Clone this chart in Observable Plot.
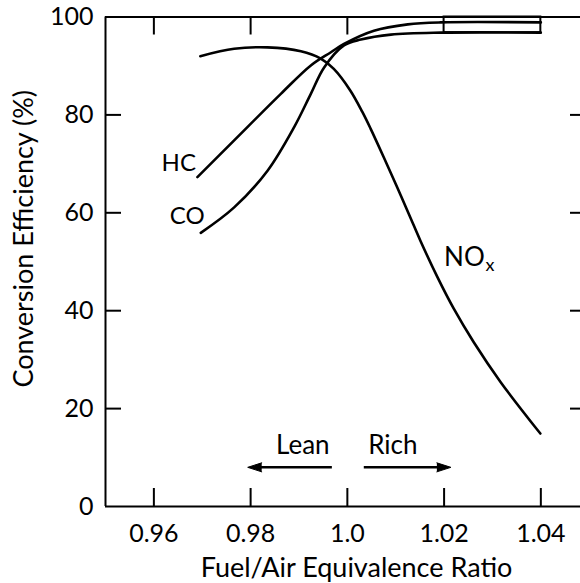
<!DOCTYPE html>
<html>
<head>
<meta charset="utf-8">
<script src="https://cdn.jsdelivr.net/npm/d3@7"></script>
<script src="https://cdn.jsdelivr.net/npm/@observablehq/plot@0.6"></script>
<style>
  body { margin: 0; background: #fff; }
  #chart svg { display: block; }
</style>
</head>
<body>
<div id="chart"></div>
<script>
// Three-way catalyst conversion efficiency vs. fuel/air equivalence ratio
const xDomain = [0.95, 1.0482];
const yDomain = [0, 100];
const xTicks = [0.96, 0.98, 1.0, 1.02, 1.04];
const xTickLabels = ["0.96", "0.98", "1.0", "1.02", "1.04"];
const yTicks = [0, 20, 40, 60, 80, 100];

// HC conversion efficiency (%)
const hcX = [0.9690, 0.9766, 0.98625, 0.99245, 0.9966, 0.9993, 1.0055, 1.0125, 1.0193, 1.0400];
const hcY = [67.3, 74.8, 84.3, 90.1, 92.8, 94.5, 97.2, 98.5, 98.9, 98.9];

// CO conversion efficiency (%)
const coX = [0.9697, 0.9766, 0.9835, 0.9890, 0.99245, 0.9952, 0.9993, 1.0028, 1.0090, 1.0193, 1.0400];
const coY = [55.9, 61.1, 68.6, 77.5, 84.3, 89.7, 94.2, 95.4, 96.4, 96.8, 96.8];

// NOx conversion efficiency (%)
const noxX = [0.9696, 0.9766, 0.9835, 0.9904, 0.9945, 0.9972, 1.0006, 1.0031, 1.0048, 1.0075,
              1.0103, 1.0130, 1.0151, 1.0186, 1.0220, 1.0261, 1.0317, 1.0399];
const noxY = [92.0, 93.5, 93.8, 93.0, 91.5, 89.4, 85.0, 80.6, 77.2, 71.4,
              65.2, 59.1, 54.3, 46.9, 40.4, 33.6, 25.4, 14.9];

// operating window box (x range, lower bound = CO plateau)
const windowX = [1.02, 1.04];
const windowY = [96.8, 100];

// curve labels
const curveLabels = [
  {text: "HC", x: 0.9687, y: 70.2},
  {text: "CO", x: 0.9705, y: 59.2}
];
const noxLabel = {x: 1.0200, y: 50.8};

// lean / rich arrows
const arrowY = 8.0;
const leanArrow = {tail: 0.9969, head: 0.9794};
const richArrow = {tail: 1.0035, head: 1.0214};
const arrowLabels = [
  {text: "Lean", x: 0.9908, y: 12.4},
  {text: "Rich", x: 1.0094, y: 12.4}
];

const xTitle = "Fuel/Air Equivalence Ratio";
const yTitle = "Conversion Efficiency (%)";

const toRows = (xs, ys) => xs.map((x, i) => ({x, y: ys[i]}));
const hc = toRows(hcX, hcY);
const co = toRows(coX, coY);
const nox = toRows(noxX, noxY);

const W = 580, H = 583;
const mT = 16.5, mB = 77, mL = 105, mR = 0;
const plotH = H - mT - mB;
const plotW = W - mL - mR;
const ink = "#000";
const font = "Lato, 'Open Sans', sans-serif";

const chart = Plot.plot({
  width: W,
  height: H,
  marginTop: mT,
  marginBottom: mB,
  marginLeft: mL,
  marginRight: mR,
  style: {fontFamily: font, fontSize: "24px", background: "#fff", color: ink},
  x: {domain: xDomain, label: null},
  y: {domain: yDomain, label: null},
  marks: [
    // frame: left, bottom, top
    Plot.ruleX([xDomain[0]], {stroke: ink, strokeWidth: 2}),
    Plot.ruleY([yDomain[0], yDomain[1]], {stroke: ink, strokeWidth: 2}),

    // inward ticks
    Plot.tickX(xTicks, {x: d => d, stroke: ink, strokeWidth: 2, insetTop: plotH - 18}),
    Plot.tickX(xTicks.filter(v => v < windowX[0]), {x: d => d, stroke: ink, strokeWidth: 2, insetBottom: plotH - 18}),
    Plot.tickY(yTicks.filter(v => v > 0 && v < 100), {y: d => d, stroke: ink, strokeWidth: 2, insetRight: plotW - 16}),
    Plot.tickY(yTicks.filter(v => v > 0 && v < 100), {y: d => d, stroke: ink, strokeWidth: 2, insetLeft: plotW - 10}),

    // tick labels
    Plot.axisX(xTicks, {
      tickSize: 0, tickPadding: 18, fontSize: 25, label: null,
      tickFormat: d => xTickLabels[xTicks.indexOf(d)]
    }),
    Plot.axisY(yTicks, {tickSize: 0, tickPadding: 12, fontSize: 25, label: null}),

    // axis titles
    Plot.text([xTitle], {frameAnchor: "bottom", lineAnchor: "middle", textAnchor: "middle",
      dx: 13.5, dy: 61.5, fontSize: 27, fill: ink}),
    Plot.text([yTitle], {frameAnchor: "left", lineAnchor: "middle", textAnchor: "middle", rotate: -90,
      dx: -81, dy: -23, fontSize: 27, fill: ink}),

    // window box
    Plot.rect([{x1: windowX[0], x2: windowX[1], y1: windowY[0], y2: windowY[1]}],
      {x1: "x1", x2: "x2", y1: "y1", y2: "y2", fill: "none", stroke: ink, strokeWidth: 2}),

    // efficiency curves
    Plot.line(nox, {x: "x", y: "y", curve: "catmull-rom", stroke: ink, strokeWidth: 2.6}),
    Plot.line(hc, {x: "x", y: "y", curve: "catmull-rom", stroke: ink, strokeWidth: 2.6}),
    Plot.line(co, {x: "x", y: "y", curve: "catmull-rom", stroke: ink, strokeWidth: 2.6}),

    // curve labels
    Plot.text(curveLabels, {x: "x", y: "y", text: "text", textAnchor: "end", fontSize: 24, fill: ink}),
    Plot.text(["NO"], {x: () => noxLabel.x, y: () => noxLabel.y, textAnchor: "start", fontSize: 26, fill: ink}),
    Plot.text(["x"], {x: () => noxLabel.x, y: () => noxLabel.y, textAnchor: "start", dx: 41.5, dy: 7.5, fontSize: 18, fill: ink}),

    // lean / rich arrows
    Plot.ruleY([arrowY], {x1: leanArrow.head, x2: leanArrow.tail, stroke: ink, strokeWidth: 2.5, insetLeft: 8}),
    Plot.ruleY([arrowY], {x1: richArrow.tail, x2: richArrow.head, stroke: ink, strokeWidth: 2.5, insetRight: 8}),
    Plot.vector([leanArrow], {x: "head", y: () => arrowY, shape: "spike", length: 14, r: 4.5, rotate: -90,
      anchor: "end", fill: ink, stroke: ink, strokeWidth: 1}),
    Plot.vector([richArrow], {x: "head", y: () => arrowY, shape: "spike", length: 14, r: 4.5, rotate: 90,
      anchor: "end", fill: ink, stroke: ink, strokeWidth: 1}),
    Plot.text(arrowLabels, {x: "x", y: "y", text: "text", fontSize: 26, fill: ink})
  ]
});

document.getElementById("chart").appendChild(chart);
</script>
</body>
</html>
